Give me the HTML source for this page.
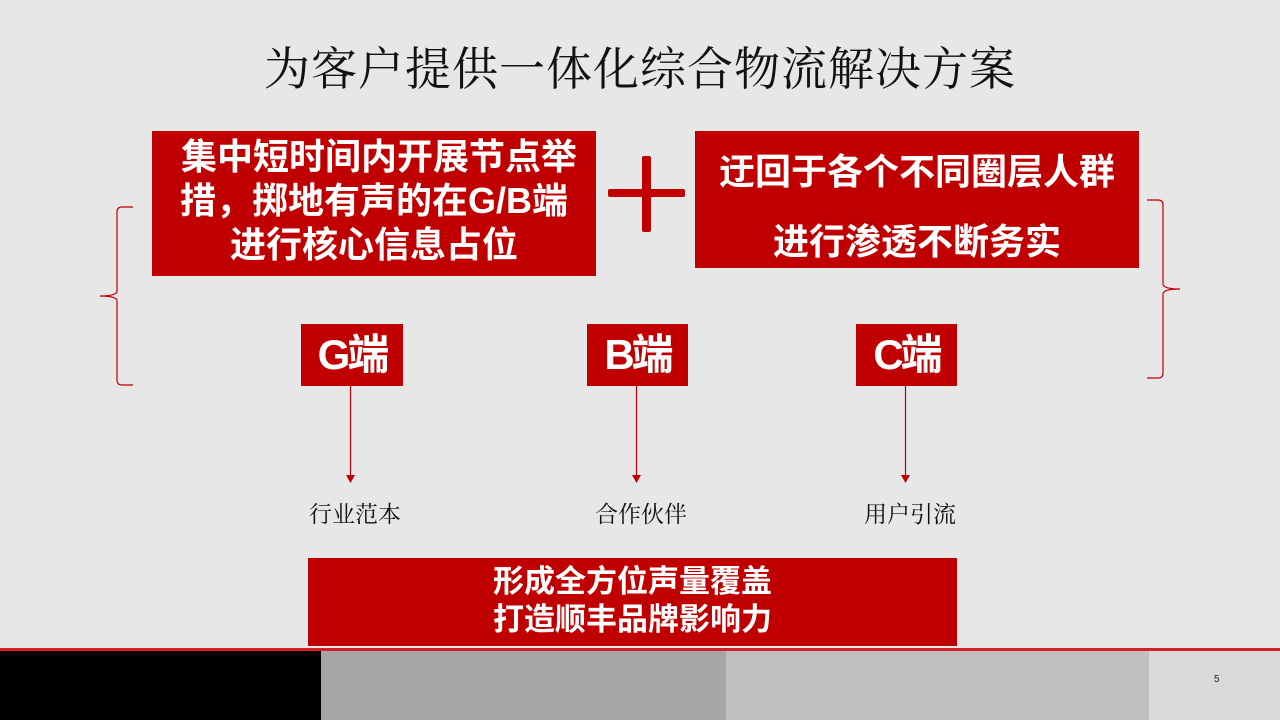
<!DOCTYPE html>
<html><head><meta charset="utf-8"><style>
body{margin:0;width:1280px;height:720px;background:#e7e7e7;position:relative;overflow:hidden;font-family:"Liberation Sans","Noto Sans CJK SC",sans-serif}
.a{position:absolute}
.r{position:absolute;background:#c00000;color:#fff;font-weight:bold;text-align:center;box-sizing:border-box}
.t{position:absolute;font-family:"Liberation Serif","Noto Serif CJK SC",serif;color:#111}
</style></head><body>
<div class="t" style="left:0;width:1280px;top:40px;text-align:center;font-size:46px;line-height:60px;letter-spacing:1px">为客户提供一体化综合物流解决方案</div>

<div class="r" style="left:152px;top:131px;width:444px;height:145px;font-size:36px;line-height:44px;padding-top:4px">&nbsp;集中短时间内开展节点举<br>措，掷地有声的在G/B端<br>进行核心信息占位</div>
<div class="a" style="left:642px;top:156px;width:9px;height:76px;background:#c00000;border-radius:2px"></div>
<div class="a" style="left:608px;top:189px;width:77px;height:8px;background:#c00000;border-radius:2px"></div>
<div class="r" style="left:695px;top:131px;width:444px;height:137px;font-size:36px;line-height:70px;padding-top:6px">迂回于各个不同圈层人群<br>进行渗透不断务实</div>

<div class="r" style="left:301px;top:324px;width:102px;height:62px;font-size:42px;line-height:62px;letter-spacing:-3px">G端</div>
<div class="r" style="left:587px;top:324px;width:101px;height:62px;font-size:42px;line-height:62px;letter-spacing:-3px">B端</div>
<div class="r" style="left:856px;top:324px;width:101px;height:62px;font-size:42px;line-height:62px;letter-spacing:-3px">C端</div>

<svg class="a" style="left:0;top:0" width="1280" height="720">
<g stroke="#c00000" stroke-width="1.2" fill="none">
<line x1="350.5" y1="386" x2="350.5" y2="476"/>
<line x1="636.5" y1="386" x2="636.5" y2="476"/>
<line x1="905.5" y1="386" x2="905.5" y2="476"/>
<path d="M133 207 H122 Q117 207 117 212 V291 Q117 296 100 296 Q117 296 117 301 V380 Q117 385 122 385 H133"/>
<path d="M1147 200 H1158 Q1163 200 1163 205 V284 Q1163 289 1180 289 Q1163 289 1163 294 V373 Q1163 378 1158 378 H1147"/>
</g>
<g fill="#c00000">
<path d="M346 475 L355 475 L350.5 483Z"/>
<path d="M632 475 L641 475 L636.5 483Z"/>
<path d="M901 475 L910 475 L905.5 483Z"/>
</g>
</svg>

<div class="t" style="left:300px;width:110px;top:496px;text-align:center;font-size:23px">行业范本</div>
<div class="t" style="left:586px;width:110px;top:496px;text-align:center;font-size:23px">合作伙伴</div>
<div class="t" style="left:855px;width:110px;top:496px;text-align:center;font-size:23px">用户引流</div>

<div class="r" style="left:308px;top:558px;width:649px;height:88px;font-size:31px;line-height:38px;padding-top:5px">形成全方位声量覆盖<br>打造顺丰品牌影响力</div>

<div class="a" style="left:0;top:648px;width:1280px;height:3px;background:#d42020"></div>
<div class="a" style="left:0;top:651px;width:321px;height:69px;background:#000"></div>
<div class="a" style="left:321px;top:651px;width:405px;height:69px;background:#a6a6a6"></div>
<div class="a" style="left:726px;top:651px;width:423px;height:69px;background:#bfbfbf"></div>
<div class="a" style="left:1149px;top:651px;width:131px;height:69px;background:#d9d9d9"></div>
<div class="a" style="left:1214px;top:674px;font-size:10px;color:#222">5</div>
</body></html>
